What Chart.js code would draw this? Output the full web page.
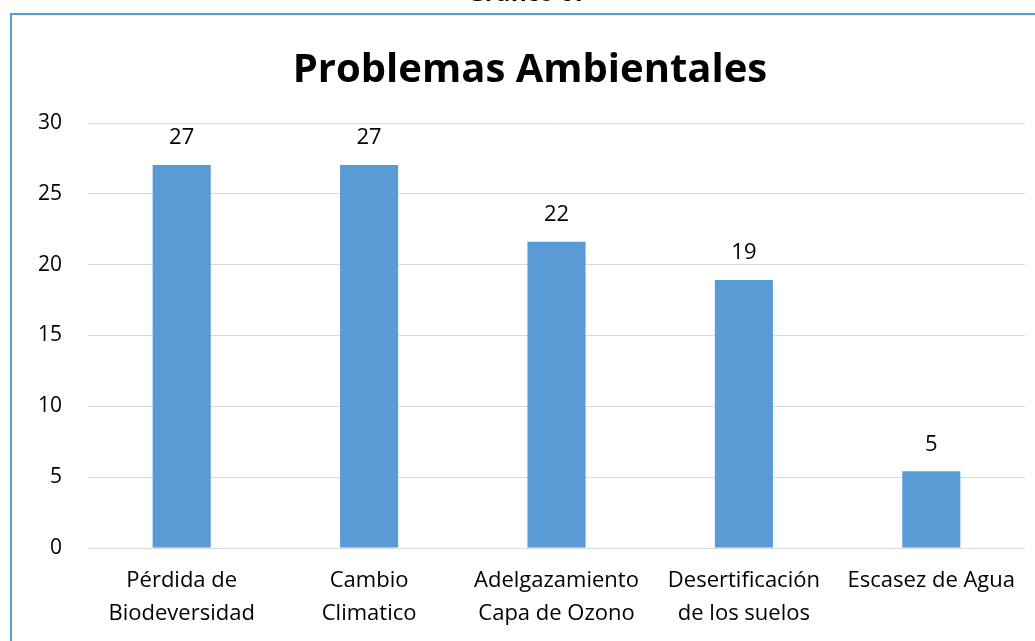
<!DOCTYPE html>
<html>
<head>
<meta charset="utf-8">
<script src="https://cdn.jsdelivr.net/npm/chart.js@4/dist/chart.umd.min.js"></script>
<style>
  html, body { margin: 0; padding: 0; background: #fff; }
  #wrap { position: relative; width: 1035px; height: 641px; overflow: hidden; }
  #frame { position: absolute; left: 10px; top: 13px; width: 1100px; height: 700px;
           border-left: 2px solid #5B9BD5; border-top: 2px solid #5B9BD5; box-sizing: border-box; }
  #cap { position: absolute; left: 10px; width: 1035px; top: -20.5px; text-align: center;
         font-family: "Open Sans", sans-serif; font-weight: bold; font-size: 24px; line-height: 24px; color: #000; }
  #ttl { position: absolute; left: 10px; width: 1040px; top: 43px; text-align: center;
         font-family: "Open Sans", sans-serif; font-weight: bold; font-size: 40px; line-height: 48px; color: #000; }
  canvas { position: absolute; left: 0; top: 0; }
</style>
</head>
<body>
<div id="wrap">
  <canvas id="c" width="1035" height="641"></canvas>
  <div id="frame"></div>
  <div id="cap">Gráfico 07</div>
  <div id="ttl"></div>
</div>
<script>
const chartTitle = "Problemas Ambientales";
const categories = [
  ["Pérdida de", "Biodeversidad"],
  ["Cambio", "Climatico"],
  ["Adelgazamiento", "Capa de Ozono"],
  ["Desertificación", "de los suelos"],
  ["Escasez de Agua"]
];
const values = [27.03, 27.03, 21.62, 18.92, 5.41];
const yTicks = [0, 5, 10, 15, 20, 25, 30];

const FONT = '"Open Sans", sans-serif';
document.getElementById('ttl').textContent = chartTitle;

const valueLabels = {
  id: 'valueLabels',
  afterDatasetsDraw(chart) {
    const ctx = chart.ctx;
    const meta = chart.getDatasetMeta(0);
    ctx.save();
    ctx.font = '22px ' + FONT;
    ctx.fillStyle = '#000';
    ctx.textAlign = 'center';
    ctx.textBaseline = 'middle';
    meta.data.forEach((bar, i) => {
      ctx.fillText(Math.round(values[i]).toString(), bar.x, bar.y - 27);
    });
    ctx.restore();
  }
};

new Chart(document.getElementById('c'), {
  type: 'bar',
  data: {
    labels: categories,
    datasets: [{
      data: values,
      backgroundColor: '#5B9BD5',
      borderWidth: 0,
      categoryPercentage: 1,
      barPercentage: 0.31
    }]
  },
  options: {
    responsive: false,
    animation: false,
    devicePixelRatio: 1,
    layout: { padding: { left: 0, right: 10, top: 123, bottom: 0 } },
    plugins: {
      legend: { display: false },
      tooltip: { enabled: false },
      title: { display: false }
    },
    scales: {
      x: {
        grid: { display: false, drawTicks: false },
        border: { display: false },
        ticks: {
          color: '#000',
          font: { family: FONT, size: 22, lineHeight: 1.5 },
          padding: 16,
          maxRotation: 0,
          autoSkip: false
        },
        afterFit(scale) { scale.height = 93; }
      },
      y: {
        min: 0, max: 30,
        afterBuildTicks(scale) { scale.ticks = yTicks.map(v => ({ value: v })); },
        grid: { color: '#d9d9d9', lineWidth: 1, drawTicks: false },
        border: { display: false },
        ticks: {
          color: '#000',
          font: { family: FONT, size: 21 },
          padding: 26
        },
        afterFit(scale) { scale.width = 88; }
      }
    }
  },
  plugins: [valueLabels]
});
</script>
</body>
</html>
